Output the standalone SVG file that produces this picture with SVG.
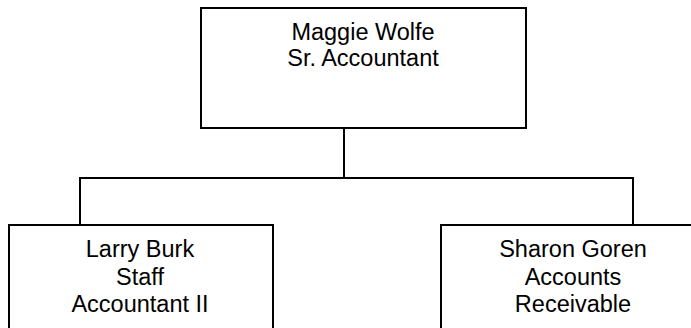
<svg xmlns="http://www.w3.org/2000/svg" width="691" height="328" viewBox="0 0 691 328">
  <style>
    .box { fill: #ffffff; stroke: #000000; stroke-width: 2; }
    .wire { fill: none; stroke: #000000; stroke-width: 2; }
    .label { font-family: "Liberation Sans", Arial, sans-serif; font-size: 23.5px; fill: #000000; text-anchor: middle; }
  </style>
  <rect width="691" height="328" fill="#ffffff"/>

  <!-- reporting lines -->
  <g id="connectors">
    <path class="wire" d="M344,128 V178"/>
    <path class="wire" d="M80,225 V178 H633 V225"/>
  </g>

  <g id="maggie-wolfe">
    <rect class="box" x="201" y="8" width="325" height="120"/>
    <text class="label" x="363" y="40">Maggie Wolfe</text>
    <text class="label" x="363" y="66">Sr. Accountant</text>
  </g>

  <g id="larry-burk">
    <rect class="box" x="9" y="225" width="264" height="130"/>
    <text class="label" x="140" y="257">Larry Burk</text>
    <text class="label" x="140" y="285">Staff</text>
    <text class="label" x="140" y="312">Accountant II</text>
  </g>

  <g id="sharon-goren">
    <rect class="box" x="441" y="225" width="264" height="130"/>
    <text class="label" x="573" y="257">Sharon Goren</text>
    <text class="label" x="573" y="285">Accounts</text>
    <text class="label" x="573" y="312">Receivable</text>
  </g>
</svg>
